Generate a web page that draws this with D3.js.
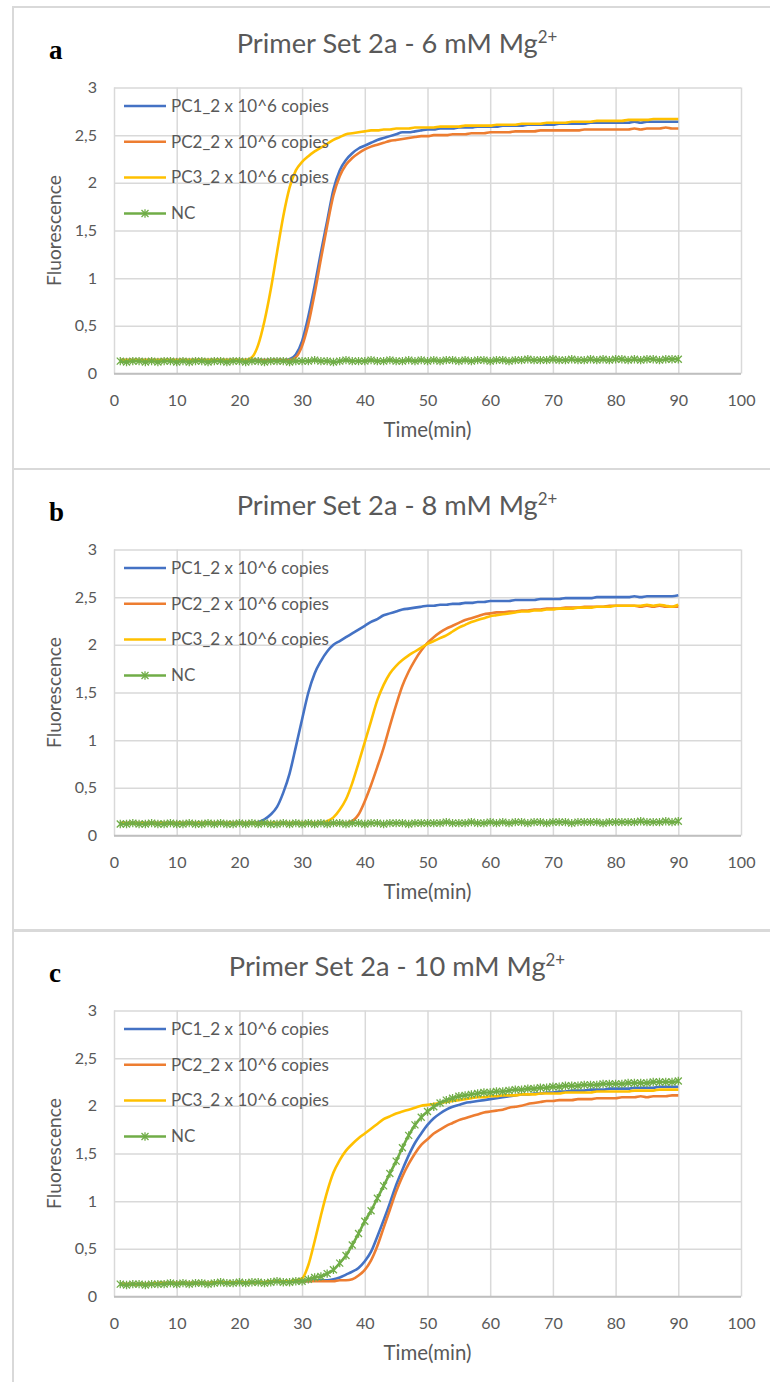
<!DOCTYPE html>
<html lang="en">
<head>
<meta charset="utf-8">
<title>Primer Set 2a - Mg2+ curves</title>
<script src="https://cdn.jsdelivr.net/npm/d3@7"></script>
<style>
  body { margin: 0; background: #fff; }
  svg { display: block; }
</style>
</head>
<body>
<script>

// canvas
var w = 770, h = 1382;

// time points (min)
var time = d3.range(1, 91);

var xTicks = [0, 10, 20, 30, 40, 50, 60, 70, 80, 90, 100];
var yTicks = [0, 0.5, 1, 1.5, 2, 2.5, 3];

var seriesNames = ["PC1_2 x 10^6 copies", "PC2_2 x 10^6 copies", "PC3_2 x 10^6 copies", "NC"];
var seriesColors = ["#4472C4", "#ED7D31", "#FFC000", "#70AD47"];

var panelLetters = ["a", "b", "c"];
var panelTitles = ["Primer Set 2a - 6 mM Mg", "Primer Set 2a - 8 mM Mg", "Primer Set 2a - 10 mM Mg"];

// ---- 6 mM Mg2+ ----
var pc1_6 = [
  0.14,0.14,0.14,0.14,0.14,0.14,0.14,0.14,0.14,0.14,
  0.14,0.14,0.14,0.14,0.14,0.14,0.14,0.14,0.14,0.14,
  0.14,0.14,0.14,0.14,0.14,0.14,0.14,0.15,0.20,0.34,
  0.60,0.92,1.27,1.60,1.93,2.13,2.24,2.31,2.36,2.39,
  2.42,2.45,2.47,2.49,2.51,2.53,2.53,2.54,2.55,2.56,
  2.56,2.57,2.57,2.57,2.58,2.58,2.58,2.59,2.59,2.59,
  2.59,2.60,2.60,2.60,2.60,2.61,2.61,2.61,2.61,2.61,
  2.62,2.62,2.62,2.62,2.62,2.63,2.63,2.63,2.63,2.63,
  2.63,2.63,2.64,2.63,2.64,2.64,2.64,2.64,2.64,2.64];
var pc2_6 = [
  0.14,0.14,0.14,0.14,0.14,0.14,0.14,0.14,0.14,0.14,
  0.14,0.14,0.14,0.14,0.14,0.14,0.14,0.14,0.14,0.14,
  0.14,0.14,0.14,0.14,0.14,0.14,0.14,0.14,0.17,0.29,
  0.52,0.84,1.20,1.55,1.87,2.07,2.19,2.26,2.31,2.35,
  2.38,2.40,2.42,2.44,2.45,2.46,2.47,2.48,2.49,2.49,
  2.50,2.50,2.50,2.51,2.51,2.51,2.52,2.52,2.52,2.53,
  2.53,2.53,2.53,2.54,2.54,2.54,2.54,2.55,2.55,2.55,
  2.55,2.55,2.55,2.55,2.56,2.56,2.56,2.56,2.56,2.56,
  2.56,2.56,2.57,2.56,2.57,2.57,2.57,2.58,2.57,2.57];
var pc3_6 = [
  0.14,0.14,0.14,0.14,0.14,0.14,0.14,0.14,0.14,0.14,
  0.14,0.14,0.14,0.14,0.14,0.14,0.14,0.14,0.14,0.14,
  0.14,0.17,0.30,0.55,0.88,1.27,1.65,1.95,2.13,2.22,
  2.28,2.33,2.37,2.41,2.45,2.48,2.51,2.52,2.53,2.54,
  2.55,2.55,2.56,2.56,2.57,2.57,2.57,2.58,2.58,2.58,
  2.58,2.59,2.59,2.59,2.59,2.60,2.60,2.60,2.60,2.60,
  2.61,2.61,2.61,2.61,2.62,2.62,2.62,2.62,2.63,2.63,
  2.63,2.63,2.64,2.64,2.64,2.64,2.65,2.65,2.65,2.65,
  2.65,2.66,2.66,2.66,2.66,2.67,2.67,2.67,2.67,2.67];
var nc_6 = [
  0.13,0.12,0.13,0.13,0.12,0.13,0.12,0.13,0.13,0.12,
  0.13,0.12,0.13,0.13,0.12,0.13,0.13,0.12,0.13,0.13,
  0.12,0.13,0.13,0.12,0.13,0.13,0.13,0.12,0.13,0.13,
  0.13,0.14,0.13,0.13,0.12,0.13,0.14,0.13,0.13,0.13,
  0.14,0.13,0.13,0.14,0.13,0.13,0.14,0.13,0.14,0.13,
  0.14,0.13,0.14,0.14,0.13,0.14,0.13,0.14,0.14,0.13,
  0.14,0.14,0.13,0.14,0.14,0.15,0.14,0.14,0.14,0.15,
  0.14,0.14,0.15,0.14,0.14,0.15,0.14,0.15,0.14,0.15,
  0.15,0.14,0.15,0.14,0.15,0.15,0.14,0.15,0.15,0.15];

// ---- 8 mM Mg2+ ----
var pc1_8 = [
  0.13,0.13,0.13,0.13,0.13,0.13,0.13,0.13,0.13,0.13,
  0.13,0.13,0.13,0.13,0.13,0.13,0.13,0.13,0.13,0.13,
  0.13,0.13,0.14,0.17,0.22,0.30,0.45,0.65,0.93,1.22,
  1.50,1.70,1.83,1.93,2.00,2.04,2.08,2.12,2.16,2.20,
  2.24,2.27,2.31,2.33,2.35,2.37,2.38,2.39,2.40,2.41,
  2.41,2.42,2.42,2.43,2.43,2.44,2.44,2.45,2.45,2.46,
  2.46,2.46,2.46,2.47,2.47,2.47,2.47,2.48,2.48,2.48,
  2.48,2.49,2.49,2.49,2.49,2.49,2.50,2.50,2.50,2.50,
  2.50,2.50,2.51,2.50,2.51,2.51,2.51,2.51,2.51,2.52];
var pc2_8 = [
  0.13,0.13,0.13,0.13,0.13,0.13,0.13,0.13,0.13,0.13,
  0.13,0.13,0.13,0.13,0.13,0.13,0.13,0.13,0.13,0.13,
  0.13,0.13,0.13,0.13,0.13,0.13,0.13,0.13,0.13,0.13,
  0.13,0.13,0.13,0.13,0.13,0.13,0.13,0.15,0.22,0.36,
  0.53,0.72,0.92,1.15,1.37,1.57,1.72,1.84,1.94,2.02,
  2.08,2.13,2.17,2.20,2.23,2.26,2.28,2.30,2.32,2.33,
  2.34,2.34,2.35,2.35,2.36,2.36,2.37,2.37,2.38,2.38,
  2.38,2.39,2.39,2.39,2.40,2.40,2.40,2.40,2.41,2.41,
  2.41,2.41,2.41,2.40,2.41,2.40,2.41,2.40,2.40,2.40];
var pc3_8 = [
  0.13,0.13,0.13,0.13,0.13,0.13,0.13,0.13,0.13,0.13,
  0.13,0.13,0.13,0.13,0.13,0.13,0.13,0.13,0.13,0.13,
  0.13,0.13,0.13,0.13,0.13,0.13,0.13,0.13,0.13,0.13,
  0.13,0.13,0.13,0.15,0.19,0.27,0.38,0.55,0.76,0.98,
  1.20,1.42,1.58,1.70,1.78,1.84,1.89,1.93,1.97,2.01,
  2.04,2.07,2.10,2.14,2.18,2.21,2.24,2.26,2.28,2.30,
  2.31,2.32,2.33,2.34,2.35,2.35,2.36,2.36,2.37,2.37,
  2.38,2.38,2.38,2.39,2.39,2.39,2.40,2.40,2.40,2.41,
  2.41,2.41,2.41,2.41,2.42,2.41,2.42,2.41,2.40,2.42];
var nc_8 = [
  0.12,0.12,0.13,0.12,0.12,0.13,0.12,0.12,0.13,0.12,
  0.12,0.13,0.12,0.12,0.13,0.12,0.13,0.12,0.12,0.13,
  0.12,0.13,0.12,0.13,0.12,0.12,0.13,0.12,0.13,0.12,
  0.13,0.12,0.13,0.12,0.13,0.13,0.12,0.13,0.13,0.12,
  0.13,0.13,0.12,0.13,0.13,0.13,0.12,0.13,0.13,0.13,
  0.13,0.13,0.14,0.13,0.13,0.13,0.14,0.13,0.13,0.14,
  0.13,0.14,0.13,0.14,0.14,0.13,0.14,0.14,0.13,0.14,
  0.14,0.14,0.13,0.14,0.14,0.14,0.14,0.13,0.14,0.14,
  0.14,0.14,0.14,0.15,0.14,0.14,0.14,0.15,0.14,0.15];

// ---- 10 mM Mg2+ ----
var pc1_10 = [
  0.13,0.13,0.13,0.13,0.13,0.13,0.14,0.14,0.14,0.14,
  0.14,0.14,0.14,0.14,0.14,0.15,0.15,0.15,0.15,0.15,
  0.15,0.15,0.15,0.15,0.16,0.16,0.16,0.16,0.16,0.16,
  0.16,0.17,0.17,0.17,0.18,0.20,0.23,0.26,0.30,0.37,
  0.47,0.63,0.80,0.98,1.17,1.33,1.48,1.61,1.71,1.80,
  1.87,1.92,1.96,1.99,2.01,2.03,2.04,2.05,2.06,2.07,
  2.08,2.09,2.10,2.11,2.12,2.12,2.13,2.13,2.14,2.14,
  2.15,2.15,2.16,2.16,2.16,2.17,2.17,2.17,2.18,2.18,
  2.18,2.18,2.19,2.19,2.19,2.19,2.20,2.20,2.20,2.20];
var pc2_10 = [
  0.13,0.13,0.13,0.13,0.13,0.13,0.14,0.14,0.14,0.14,
  0.14,0.14,0.14,0.14,0.14,0.15,0.15,0.15,0.15,0.15,
  0.15,0.15,0.15,0.15,0.16,0.16,0.16,0.16,0.16,0.16,
  0.16,0.16,0.16,0.16,0.16,0.17,0.17,0.18,0.22,0.28,
  0.38,0.53,0.72,0.91,1.10,1.26,1.39,1.50,1.59,1.65,
  1.71,1.75,1.79,1.82,1.85,1.87,1.89,1.91,1.93,1.94,
  1.95,1.96,1.98,1.99,2.00,2.02,2.03,2.04,2.05,2.05,
  2.06,2.06,2.06,2.07,2.07,2.07,2.08,2.08,2.08,2.08,
  2.09,2.09,2.09,2.10,2.09,2.10,2.10,2.10,2.11,2.11];
var pc3_10 = [
  0.13,0.13,0.13,0.13,0.13,0.13,0.14,0.14,0.14,0.14,
  0.14,0.14,0.14,0.14,0.14,0.15,0.15,0.15,0.15,0.15,
  0.15,0.15,0.15,0.15,0.16,0.16,0.16,0.16,0.17,0.19,
  0.33,0.58,0.85,1.10,1.30,1.43,1.53,1.60,1.66,1.71,
  1.76,1.81,1.86,1.89,1.92,1.94,1.96,1.98,2.00,2.01,
  2.02,2.03,2.04,2.05,2.06,2.07,2.08,2.09,2.09,2.10,
  2.10,2.11,2.11,2.11,2.12,2.12,2.12,2.13,2.13,2.13,
  2.13,2.14,2.14,2.14,2.14,2.14,2.15,2.15,2.15,2.15,
  2.15,2.15,2.16,2.16,2.16,2.16,2.17,2.17,2.17,2.17];
var nc_10 = [
  0.13,0.12,0.13,0.13,0.12,0.13,0.13,0.13,0.14,0.13,
  0.14,0.13,0.14,0.14,0.13,0.14,0.15,0.14,0.14,0.15,
  0.14,0.15,0.15,0.14,0.15,0.16,0.15,0.15,0.16,0.16,
  0.18,0.20,0.21,0.24,0.28,0.35,0.43,0.54,0.66,0.79,
  0.90,1.03,1.16,1.29,1.42,1.56,1.69,1.80,1.88,1.94,
  1.99,2.03,2.06,2.08,2.10,2.11,2.12,2.13,2.14,2.14,
  2.15,2.15,2.16,2.17,2.17,2.18,2.18,2.19,2.19,2.20,
  2.20,2.21,2.21,2.21,2.22,2.22,2.22,2.23,2.23,2.23,
  2.23,2.24,2.24,2.24,2.24,2.25,2.25,2.25,2.25,2.26];

var panelSeries = [
  [pc1_6, pc2_6, pc3_6, nc_6],
  [pc1_8, pc2_8, pc3_8, nc_8],
  [pc1_10, pc2_10, pc3_10, nc_10]
];

// layout
var panelTops = [7, 469, 930];
var boxLeft = 13, boxRight = 782;
var plotLeft = 114, plotRight = 741;
var plotTopOff = 80.5, plotBottomOff = 366.5;
var legendOff = [18.5, 54.3, 90, 126];

var sansFont = "Lato, 'Open Sans', sans-serif";
var textGray = "#595959";

var svg = d3.select("body")
  .append("svg")
  .attr("width", w)
  .attr("height", h);

// find font size that makes a string reach a given width
function fitSize(str, target) {
  var t = svg.append("text")
    .attr("font-family", sansFont)
    .attr("font-size", 100)
    .text(str);
  var len = t.node().getComputedTextLength();
  t.remove();
  return 100 * target / len;
}

var titleSize = fitSize("Primer Set 2a - 6 mM Mg", 301);
var legendSize = fitSize("PC1_2 x 10^6 copies", 158);
var tickSize = fitSize("100", 28);
var xTitleSize = fitSize("Time(min)", 88);
var yTitleSize = fitSize("Fluorescence", 111);

// excel style star marker
var starPath = "M-3.5,-3.5L3.5,3.5M-3.5,3.5L3.5,-3.5M0,-4.2L0,4.2";

var x = d3.scaleLinear().domain([0, 100]).range([plotLeft, plotRight]);

panelSeries.forEach(function(series, p) {
  var top = panelTops[p];
  var y = d3.scaleLinear().domain([0, 3]).range([top + plotBottomOff, top + plotTopOff]);
  var g = svg.append("g");

  // chart box
  g.append("rect")
    .attr("x", boxLeft)
    .attr("y", top)
    .attr("width", boxRight - boxLeft)
    .attr("height", 462)
    .attr("fill", "none")
    .attr("stroke", "#D9D9D9")
    .attr("stroke-width", 2);

  // horizontal gridlines + y labels
  var gy = g.append("g")
    .attr("transform", "translate(" + plotLeft + ",0)")
    .call(d3.axisLeft(y)
      .tickValues(yTicks)
      .tickSize(-(plotRight - plotLeft))
      .tickPadding(17)
      .tickFormat(function(d) { return String(d).replace(".", ","); }));
  gy.select(".domain").remove();
  gy.selectAll("line")
    .attr("stroke", function(d) { return d === 0 ? "#BFBFBF" : "#D9D9D9"; })
    .attr("stroke-width", 1.5);
  gy.selectAll("text")
    .attr("font-family", sansFont)
    .attr("font-size", tickSize)
    .attr("fill", textGray);

  // vertical gridlines + x labels
  var gx = g.append("g")
    .attr("transform", "translate(0," + y(0) + ")")
    .call(d3.axisBottom(x)
      .tickValues(xTicks)
      .tickSize(-(y(0) - y(3)))
      .tickPadding(0));
  gx.select(".domain").remove();
  gx.selectAll("line")
    .attr("stroke", "#D9D9D9")
    .attr("stroke-width", 1.5);
  gx.selectAll("text")
    .attr("font-family", sansFont)
    .attr("font-size", tickSize)
    .attr("fill", textGray)
    .attr("dy", null)
    .attr("y", 32);

  // redraw the x axis line on top of vertical gridlines
  g.append("line")
    .attr("x1", plotLeft)
    .attr("x2", plotRight)
    .attr("y1", y(0))
    .attr("y2", y(0))
    .attr("stroke", "#BFBFBF")
    .attr("stroke-width", 1.5);

  // titles
  var title = g.append("text")
    .attr("x", 397)
    .attr("y", top + 46)
    .attr("text-anchor", "middle")
    .attr("font-family", sansFont)
    .attr("font-size", titleSize)
    .attr("fill", textGray)
    .text(panelTitles[p]);
  title.append("tspan")
    .attr("font-size", titleSize * 0.62)
    .attr("dy", -titleSize * 0.36)
    .text("2+");

  g.append("text")
    .attr("x", 49)
    .attr("y", top + 52)
    .attr("font-family", "'Liberation Serif', 'Times New Roman', serif")
    .attr("font-weight", "bold")
    .attr("font-size", 27)
    .attr("fill", "#000")
    .text(panelLetters[p]);

  g.append("text")
    .attr("x", (plotLeft + plotRight) / 2)
    .attr("y", y(0) + 63)
    .attr("text-anchor", "middle")
    .attr("font-family", sansFont)
    .attr("font-size", xTitleSize)
    .attr("fill", textGray)
    .text("Time(min)");

  g.append("text")
    .attr("transform", "translate(61," + ((y(0) + y(3)) / 2) + ") rotate(-90)")
    .attr("text-anchor", "middle")
    .attr("font-family", sansFont)
    .attr("font-size", yTitleSize)
    .attr("fill", textGray)
    .text("Fluorescence");

  // curves
  var line = d3.line()
    .x(function(d, i) { return x(time[i]); })
    .y(function(d) { return y(d); })
    .curve(d3.curveMonotoneX);

  series.forEach(function(vals, s) {
    g.append("path")
      .datum(vals)
      .attr("d", line)
      .attr("fill", "none")
      .attr("stroke", seriesColors[s])
      .attr("stroke-width", 2.6)
      .attr("stroke-linejoin", "round");
  });

  // NC markers
  g.selectAll("path.star")
    .data(series[3])
    .enter()
    .append("path")
    .attr("class", "star")
    .attr("d", starPath)
    .attr("transform", function(d, i) { return "translate(" + x(time[i]) + "," + y(d) + ")"; })
    .attr("fill", "none")
    .attr("stroke", seriesColors[3])
    .attr("stroke-width", 1.3);

  // legend
  var lg = g.selectAll("g.legend")
    .data(seriesNames)
    .enter()
    .append("g")
    .attr("class", "legend")
    .attr("transform", function(d, i) { return "translate(0," + (top + plotTopOff + legendOff[i]) + ")"; });

  lg.append("line")
    .attr("x1", 124)
    .attr("x2", 166)
    .attr("stroke", function(d, i) { return seriesColors[i]; })
    .attr("stroke-width", 2.6);

  lg.filter(function(d, i) { return i === 3; })
    .append("path")
    .attr("d", starPath)
    .attr("transform", "translate(145,0)")
    .attr("fill", "none")
    .attr("stroke", seriesColors[3])
    .attr("stroke-width", 1.3);

  lg.append("text")
    .attr("x", 171)
    .attr("dy", "0.35em")
    .attr("font-family", sansFont)
    .attr("font-size", legendSize)
    .attr("fill", textGray)
    .text(function(d) { return d; });
});

</script>
</body>
</html>
